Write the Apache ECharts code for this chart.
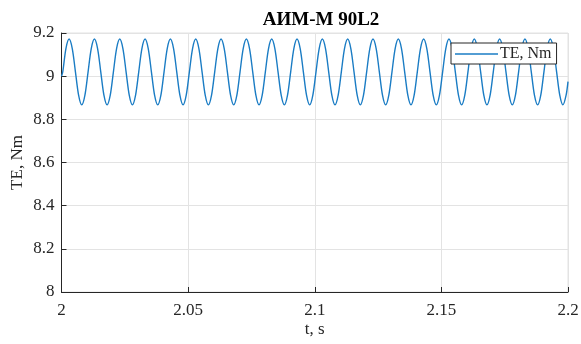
<!DOCTYPE html>
<html>
<head>
<meta charset="utf-8">
<script src="https://cdn.jsdelivr.net/npm/echarts@6/dist/echarts.min.js"></script>
<style>
  html, body { margin: 0; padding: 0; background: #fff; }
  #chart { width: 581px; height: 344px; }
</style>
</head>
<body>
<div id="chart"></div>
<script>
// Electromagnetic torque ripple: sample instants (s), one row per ripple period
const timeS = [
  2.0000,
  2.0005, 2.00175, 2.0030, 2.00425, 2.0055, 2.00675, 2.0080, 2.00925,
  2.0105, 2.01175, 2.0130, 2.01425, 2.0155, 2.01675, 2.0180, 2.01925,
  2.0205, 2.02175, 2.0230, 2.02425, 2.0255, 2.02675, 2.0280, 2.02925,
  2.0305, 2.03175, 2.0330, 2.03425, 2.0355, 2.03675, 2.0380, 2.03925,
  2.0405, 2.04175, 2.0430, 2.04425, 2.0455, 2.04675, 2.0480, 2.04925,
  2.0505, 2.05175, 2.0530, 2.05425, 2.0555, 2.05675, 2.0580, 2.05925,
  2.0605, 2.06175, 2.0630, 2.06425, 2.0655, 2.06675, 2.0680, 2.06925,
  2.0705, 2.07175, 2.0730, 2.07425, 2.0755, 2.07675, 2.0780, 2.07925,
  2.0805, 2.08175, 2.0830, 2.08425, 2.0855, 2.08675, 2.0880, 2.08925,
  2.0905, 2.09175, 2.0930, 2.09425, 2.0955, 2.09675, 2.0980, 2.09925,
  2.1005, 2.10175, 2.1030, 2.10425, 2.1055, 2.10675, 2.1080, 2.10925,
  2.1105, 2.11175, 2.1130, 2.11425, 2.1155, 2.11675, 2.1180, 2.11925,
  2.1205, 2.12175, 2.1230, 2.12425, 2.1255, 2.12675, 2.1280, 2.12925,
  2.1305, 2.13175, 2.1330, 2.13425, 2.1355, 2.13675, 2.1380, 2.13925,
  2.1405, 2.14175, 2.1430, 2.14425, 2.1455, 2.14675, 2.1480, 2.14925,
  2.1505, 2.15175, 2.1530, 2.15425, 2.1555, 2.15675, 2.1580, 2.15925,
  2.1605, 2.16175, 2.1630, 2.16425, 2.1655, 2.16675, 2.1680, 2.16925,
  2.1705, 2.17175, 2.1730, 2.17425, 2.1755, 2.17675, 2.1780, 2.17925,
  2.1805, 2.18175, 2.1830, 2.18425, 2.1855, 2.18675, 2.1880, 2.18925,
  2.1905, 2.19175, 2.1930, 2.19425, 2.1955, 2.19675, 2.1980, 2.19925,
  2.2000
];
// Torque (N·m) at the same instants
const torqueNm = [
  9.000,
  9.020, 9.128, 9.172, 9.128, 9.020, 8.912, 8.867, 8.912,
  9.020, 9.128, 9.172, 9.128, 9.020, 8.912, 8.867, 8.912,
  9.020, 9.128, 9.172, 9.128, 9.020, 8.912, 8.867, 8.912,
  9.020, 9.128, 9.172, 9.128, 9.020, 8.912, 8.867, 8.912,
  9.020, 9.128, 9.172, 9.128, 9.020, 8.912, 8.867, 8.912,
  9.020, 9.128, 9.172, 9.128, 9.020, 8.912, 8.867, 8.912,
  9.020, 9.128, 9.172, 9.128, 9.020, 8.912, 8.867, 8.912,
  9.020, 9.128, 9.172, 9.128, 9.020, 8.912, 8.867, 8.912,
  9.020, 9.128, 9.172, 9.128, 9.020, 8.912, 8.867, 8.912,
  9.020, 9.128, 9.172, 9.128, 9.020, 8.912, 8.867, 8.912,
  9.020, 9.128, 9.172, 9.128, 9.020, 8.912, 8.867, 8.912,
  9.020, 9.128, 9.172, 9.128, 9.020, 8.912, 8.867, 8.912,
  9.020, 9.128, 9.172, 9.128, 9.020, 8.912, 8.867, 8.912,
  9.020, 9.128, 9.172, 9.128, 9.020, 8.912, 8.867, 8.912,
  9.020, 9.128, 9.172, 9.128, 9.020, 8.912, 8.867, 8.912,
  9.020, 9.128, 9.172, 9.128, 9.020, 8.912, 8.867, 8.912,
  9.020, 9.128, 9.172, 9.128, 9.020, 8.912, 8.867, 8.912,
  9.020, 9.128, 9.172, 9.128, 9.020, 8.912, 8.867, 8.912,
  9.020, 9.128, 9.172, 9.128, 9.020, 8.912, 8.867, 8.912,
  9.020, 9.128, 9.172, 9.128, 9.020, 8.912, 8.867, 8.912,
  8.975
];
const yTicks = [8, 8.2, 8.4, 8.6, 8.8, 9, 9.2];
const xTicks = [2, 2.05, 2.1, 2.15, 2.2];

const FONT = '"Liberation Serif", "Times New Roman", serif';
const TXT = '#262626';
const GRID = '#e3e3e3';

const series = timeS.map((t, i) => [t, torqueNm[i]]);

const chart = echarts.init(document.getElementById('chart'), null, { renderer: 'canvas' });
chart.setOption({
  animation: false,
  backgroundColor: '#ffffff',
  title: {
    text: 'АИМ-М 90L2',
    left: 316, top: 6,
    textAlign: 'center',
    textStyle: { fontFamily: FONT, fontSize: 19, fontWeight: 'bold', color: '#000' }
  },
  legend: {
    left: 451, top: 43,
    padding: [3, 5, 2, 4],
    itemWidth: 43, itemHeight: 1.5, itemGap: 0,
    borderColor: '#262626', borderWidth: 1,
    backgroundColor: '#ffffff',
    icon: 'rect',
    textStyle: { fontFamily: FONT, fontSize: 16, color: TXT, padding: [0, 0, 0, -3] },
    data: ['TE, Nm']
  },
  grid: { left: 61.5, right: 13, top: 33, bottom: 52, containLabel: false,
          outerBoundsMode: 'none',
          show: true, borderColor: GRID, borderWidth: 1 },
  xAxis: {
    type: 'value', min: xTicks[0], max: xTicks[xTicks.length - 1], interval: 0.05,
    name: 't, s', nameLocation: 'middle', nameGap: 29, nameMoveOverlap: false,
    nameTextStyle: { fontFamily: FONT, fontSize: 17, color: TXT },
    axisLine: { show: true, onZero: false, lineStyle: { color: '#262626', width: 1 } },
    axisTick: { show: true, inside: true, length: 5, lineStyle: { color: '#262626' } },
    axisLabel: { fontFamily: FONT, fontSize: 17, color: TXT, margin: 10,
                 formatter: v => String(parseFloat(v.toFixed(2))) },
    splitLine: { show: true, lineStyle: { color: GRID, width: 1 } }
  },
  yAxis: {
    type: 'value', min: yTicks[0], max: yTicks[yTicks.length - 1], interval: 0.2,
    name: 'TE, Nm', nameLocation: 'middle', nameGap: 35, nameMoveOverlap: false,
    nameTextStyle: { fontFamily: FONT, fontSize: 17, color: TXT },
    axisLine: { show: true, onZero: false, lineStyle: { color: '#262626', width: 1 } },
    axisTick: { show: true, inside: true, length: 5, lineStyle: { color: '#262626' } },
    axisLabel: { fontFamily: FONT, fontSize: 17, color: TXT, margin: 7,
                 formatter: v => String(parseFloat(v.toFixed(1))) },
    splitLine: { show: true, lineStyle: { color: GRID, width: 1 } }
  },
  series: [{
    name: 'TE, Nm',
    type: 'line',
    data: series,
    smooth: 0.3,
    symbol: 'none',
    lineStyle: { color: '#1a7cc4', width: 1.4 },
    itemStyle: { color: '#1a7cc4' },
    z: 2
  }]
});
</script>
</body>
</html>
